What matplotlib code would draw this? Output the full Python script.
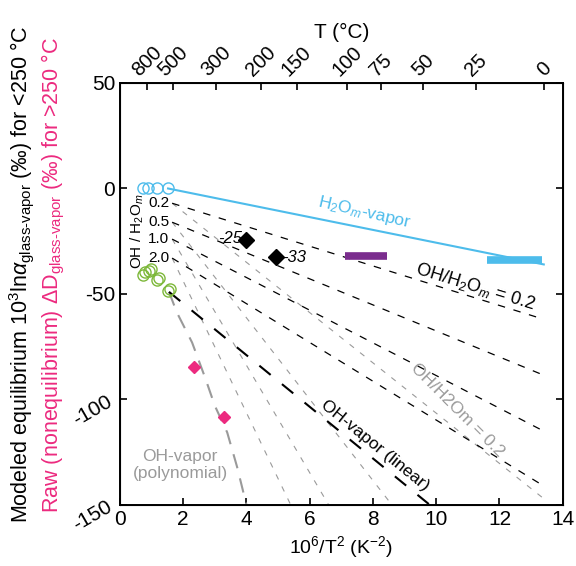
import numpy as np
import matplotlib.pyplot as plt

plt.rcParams['font.family'] = ['Liberation Sans', 'DejaVu Sans']
plt.rcParams['mathtext.fontset'] = 'custom'
plt.rcParams['mathtext.rm'] = 'Liberation Sans'
plt.rcParams['mathtext.it'] = 'Liberation Sans:italic'
plt.rcParams['mathtext.sf'] = 'Liberation Sans'

# Données
h2o_x = [0.73, 0.89, 1.17, 1.52]
h2o_y = [0, 0, 0, 0]
oh_x = [0.73, 0.92, 1.17, 1.52]
oh_y = [-40.8, -39.3, -43.6, -48.8]

h2o_line_x = [1.52, 13.4]
h2o_line_y = [0, -36]

oh_lin_x = [1.55, 9.8]
oh_lin_y = [-49, -150]

oh_poly_x = [1.55, 1.8, 2.28, 2.69, 3.0, 3.39, 3.7, 4.0]
oh_poly_y = [-49, -58.8, -73, -89.6, -103, -115.6, -131.8, -150]

ratio_labels = ['0.2', '0.5', '1.0', '2.0']
mix_x0 = 1.65
mix_y0 = [-7, -16, -24, -33]
mix_black_x1 = [13.4, 13.4, 13.4, 13.4]
mix_black_y1 = [-62, -88.5, -115, -141]
mix_grey_x1 = [13.4, 8.6, 6.6, 5.4]
mix_grey_y1 = [-147, -150, -150, -150]

diam_x = [4.0, 4.94]
diam_y = [-24.6, -32.7]
diam_lab = ['-25', '-33']

pink_x = [2.34, 3.29]
pink_y = [-84.8, -108.5]

purple_bar_x = [7.12, 8.45]
purple_bar_y = -32
cyan_bar_x = [11.6, 13.35]
cyan_bar_y = -34

T_ticks = [800, 500, 300, 200, 150, 100, 75, 50, 25, 0]

cyan = '#4DBCEB'
green = '#7DB83A'
pink = '#EC2A7F'
purple = '#7B2D8E'
grey = '#9A9A9A'

fig = plt.figure(figsize=(5.76, 5.66), dpi=100)
ax = fig.add_axes([0.2083, 0.1078, 0.7687, 0.7456])

# Lignes de mélange
for i in range(len(ratio_labels)):
    ax.plot([mix_x0, mix_grey_x1[i]], [mix_y0[i], mix_grey_y1[i]], color=grey,
            lw=0.8, linestyle=(0, (5, 7)))
    ax.plot([mix_x0, mix_black_x1[i]], [mix_y0[i], mix_black_y1[i]], color='black',
            lw=0.9, linestyle=(0, (6, 7)))
    ax.text(1.55, mix_y0[i], ratio_labels[i], ha='right', va='center', fontsize=11)

ax.plot(oh_poly_x, oh_poly_y, color=grey, lw=1.5, linestyle=(0, (7, 5)))
ax.plot(oh_lin_x, oh_lin_y, color='black', lw=1.5, linestyle=(0, (7, 7)))
ax.plot(h2o_line_x, h2o_line_y, color=cyan, lw=1.5)

ax.plot(purple_bar_x, [purple_bar_y, purple_bar_y], color=purple, lw=5.5, solid_capstyle='butt')
ax.plot(cyan_bar_x, [cyan_bar_y, cyan_bar_y], color=cyan, lw=5.5, solid_capstyle='butt')

ax.plot(h2o_x, h2o_y, 'o', mfc='none', mec=cyan, ms=8, mew=1.0)
ax.plot(oh_x, oh_y, 'o', mfc='none', mec=green, ms=8, mew=1.0)
ax.plot(np.array(oh_x) + 0.05, np.array(oh_y) + 1.0, 'o', mfc='none', mec=green, ms=8, mew=1.0)

ax.plot(diam_x, diam_y, 'D', color='black', ms=8)
ax.text(diam_x[0] - 0.15, diam_y[0] + 1, diam_lab[0], ha='right', va='center',
        fontsize=12, style='italic')
ax.text(diam_x[1] + 0.2, diam_y[1], diam_lab[1], ha='left', va='center',
        fontsize=12, style='italic')
ax.plot(pink_x, pink_y, 'D', color=pink, ms=6.5)

# Annotations
ax.text(7.72, -11.5, r'H$_2$O$_m$-vapor', color=cyan, fontsize=12.5, rotation=-13,
        ha='center', va='center')
ax.text(11.23, -46.4, r'OH/H$_2$O$_m$ = 0.2', color='black', fontsize=13, rotation=-17,
        ha='center', va='center')
ax.text(10.67, -105, 'OH/H2Om = 0.2', color=grey, fontsize=12.5, rotation=-45,
        ha='center', va='center')
ax.text(8.07, -122, 'OH-vapor (linear)', color='black', fontsize=12.5, rotation=-39,
        ha='center', va='center')
ax.text(1.9, -131, 'OH-vapor\n(polynomial)', color=grey, fontsize=12.5, ha='center',
        va='center', linespacing=1.15)
ax.text(0.54, -20.5, r'OH / H$_2$O$_m$', rotation=90, fontsize=11, ha='center', va='center')

ax.set_xlim(0, 14)
ax.set_ylim(-150, 50)
ax.set_xticks(np.arange(0, 15, 2))
ax.set_yticks([-150, -100, -50, 0, 50])
ax.tick_params(direction='in', length=5, width=1.2, labelsize=15, right=True, top=False)
ax.set_yticklabels(['-150', '-100', '-50', '0', '50'])
for lab, rot in zip(ax.get_yticklabels(), [30, 30, 0, 0, 0]):
    lab.set_rotation(rot)
ax.set_xlabel(r'10$^6$/T$^2$ (K$^{-2}$)', fontsize=14, labelpad=4)
for s in ax.spines.values():
    s.set_linewidth(1.4)

ax2 = ax.twiny()
ax2.set_xlim(ax.get_xlim())
ax2.set_xticks([1e6 / (t + 273.15) ** 2 for t in T_ticks])
ax2.set_xticklabels([str(t) for t in T_ticks], rotation=45, fontsize=14.5)
ax2.tick_params(direction='in', length=5, width=1.2, pad=2)
ax2.set_xlabel('T (°C)', fontsize=15, labelpad=4)

fig.text(0.038, 0.515, r'Modeled equilibrium 10$^3$ln$\alpha_{\mathrm{glass\text{-}vapor}}$ (‰) for <250 °C',
         rotation=90, ha='center', va='center', fontsize=15.5)
fig.text(0.092, 0.515, r'Raw (nonequilibrium) $\Delta$D$_{\mathrm{glass\text{-}vapor}}$ (‰) for >250 °C',
         rotation=90, ha='center', va='center', fontsize=15.5, color=pink)

fig.savefig('out.png', dpi=100)
